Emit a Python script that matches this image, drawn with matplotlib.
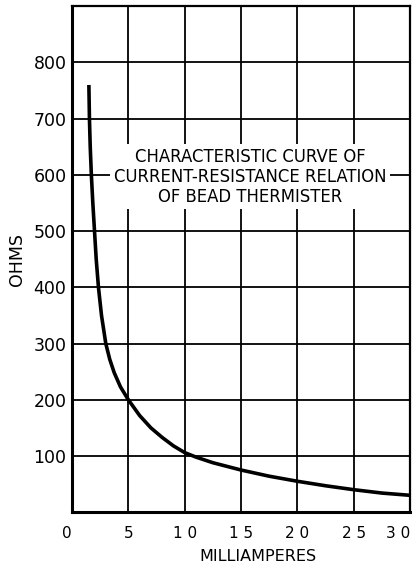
import matplotlib
matplotlib.use('Agg')
import matplotlib.pyplot as plt

# Current (mA) vs resistance (ohms)
milliamperes = [1.5, 1.55, 1.62, 1.72, 1.85, 2.0, 2.15, 2.35, 2.62, 3.0, 3.35, 3.75, 4.3, 5.0,
                6.0, 7.0, 8.0, 9.0, 10.0, 11.0, 12.5, 15.0, 17.5, 20.0, 22.5, 25.0, 27.5, 30.0]
ohms = [760, 700, 650, 600, 550, 500, 450, 400, 350, 300, 272, 248, 223, 200,
        172, 150, 133, 118, 106, 98, 88, 75, 64, 55, 47, 40, 34, 30]

x_ticks = [0, 5, 10, 15, 20, 25, 30]
x_tick_labels = ['0', '5', '1 0', '1 5', '2 0', '2 5', '3 0']
y_ticks = [100, 200, 300, 400, 500, 600, 700, 800]

title_text = 'CHARACTERISTIC CURVE OF\nCURRENT-RESISTANCE RELATION\nOF BEAD THERMISTER'

fig = plt.figure(figsize=(4.16, 5.71), dpi=100)
ax = fig.add_axes([0.173, 0.103, 0.813, 0.886])

ax.set_xlim(0, 30)
ax.set_ylim(0, 900)

# grid every 5 mA and every 100 ohms
for xv in x_ticks[1:-1]:
    ax.axvline(xv, color='black', lw=1.3, zorder=1)
for yv in range(100, 900, 100):
    ax.axhline(yv, color='black', lw=1.3, zorder=1)

ax.plot(milliamperes, ohms, color='black', lw=2.6, solid_capstyle='butt', zorder=3)

ax.text(15.8, 597, title_text, ha='center', va='center', fontsize=11.9,
        linespacing=1.15, zorder=4,
        bbox=dict(facecolor='white', edgecolor='none', pad=2.5))

ax.set_xticks(x_ticks)
ax.set_xticklabels(x_tick_labels, fontsize=11)
ax.set_yticks(y_ticks)
ax.set_yticklabels([str(v) for v in y_ticks], fontsize=12.5)
ax.tick_params(length=0, pad=4)
ax.tick_params(axis='x', pad=10)
ax.get_xticklabels()[0].set_horizontalalignment('right')
ax.get_xticklabels()[-1].set_horizontalalignment('right')

for side in ['left', 'bottom']:
    ax.spines[side].set_linewidth(2.2)
for side in ['top', 'right']:
    ax.spines[side].set_linewidth(1.6)

ax.set_xlabel('MILLIAMPERES', fontsize=11.5)
ax.xaxis.set_label_coords(0.55, -0.072)
ax.set_ylabel('OHMS', fontsize=12.5)
ax.yaxis.set_label_coords(-0.135, 0.5)

fig.savefig('out.png', dpi=100)
